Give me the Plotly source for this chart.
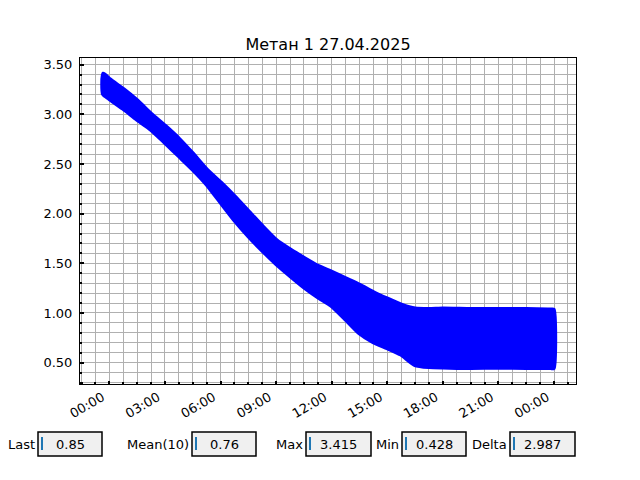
import plotly.graph_objects as go

# ---- data ----
title_text = "Метан 1 27.04.2025"
times = [
    "2025-04-26 23:41", "2025-04-27 00:00", "2025-04-27 00:45", "2025-04-27 01:30",
    "2025-04-27 02:15", "2025-04-27 03:00", "2025-04-27 03:45", "2025-04-27 04:30",
    "2025-04-27 05:15", "2025-04-27 06:00", "2025-04-27 06:45", "2025-04-27 07:30",
    "2025-04-27 08:15", "2025-04-27 09:00", "2025-04-27 09:45", "2025-04-27 10:30",
    "2025-04-27 11:15", "2025-04-27 12:00", "2025-04-27 12:45", "2025-04-27 13:30",
    "2025-04-27 14:15", "2025-04-27 15:00", "2025-04-27 15:45", "2025-04-27 16:30",
    "2025-04-27 17:15", "2025-04-27 18:00", "2025-04-27 19:30", "2025-04-27 21:00",
    "2025-04-27 22:30", "2025-04-27 23:40", "2025-04-27 23:50", "2025-04-27 23:58",
]
band_high = [3.405, 3.35, 3.25, 3.135, 3.00, 2.88, 2.75, 2.60,
             2.44, 2.31, 2.17, 2.02, 1.87, 1.73, 1.635, 1.55,
             1.47, 1.41, 1.345, 1.28, 1.205, 1.14, 1.08, 1.04,
             1.035, 1.04, 1.035, 1.035, 1.035, 1.03, 1.03, 1.03]
band_low = [3.205, 3.16, 3.06, 2.95, 2.85, 2.72, 2.585, 2.45,
            2.30, 2.12, 1.94, 1.78, 1.635, 1.50, 1.38, 1.265,
            1.165, 1.075, 0.94, 0.80, 0.71, 0.65, 0.585, 0.48,
            0.46, 0.455, 0.45, 0.455, 0.45, 0.45, 0.45, 0.45]

stat_labels = ["Last", "Mean(10)", "Max", "Min", "Delta"]
stat_values = ["0.85", "0.76", "3.415", "0.428", "2.987"]
# pixel boxes (left, right) for each stat, in window pixels
box_px = [(38, 102), (192, 256), (306, 371), (402, 466), (510, 575)]

# ---- figure (page body has an 8px margin) ----
OFF = 8
PL, PR, PT, PB = 80, 576, 58, 384   # plot area in window pixels
W, H = 640 - OFF, 480 - OFF

def px_x(p):
    return (p - PL) / (PR - PL)

def px_y(p):
    return (PB - p) / (PB - PT)

poly_x = times + times[::-1] + times[:1]
poly_y = band_high + band_low[::-1] + band_high[:1]

fig = go.Figure()
fig.add_trace(go.Scatter(
    x=poly_x, y=poly_y, mode="lines", fill="toself",
    fillcolor="#0000ff", line=dict(color="#0000ff", width=5, shape="spline", smoothing=0.5),
    hoverinfo="skip", showlegend=False,
))

font = "DejaVu Sans"
grid = "#b0b0b0"

fig.update_layout(
    width=W, height=H,
    margin=dict(l=PL - OFF, r=W - (PR - OFF), t=PT - OFF, b=H - (PB - OFF), pad=0),
    paper_bgcolor="white", plot_bgcolor="white",
    font=dict(family=font, size=13, color="black"),
    title=dict(text=title_text, x=0.5, xref="paper", y=1 - (44 - OFF) / H, yref="container",
               xanchor="center", yanchor="middle", font=dict(size=16, family=font)),
    showlegend=False,
)

fig.update_xaxes(
    type="date",
    range=["2025-04-26 22:25", "2025-04-28 01:11"],
    tick0="2025-04-27 00:00", dtick=3 * 3600 * 1000, tickformat="%H:%M",
    tickangle=-30, ticks="inside", ticklen=3, tickwidth=2, tickcolor="black",
    ticklabelshift=-7,
    showgrid=True, gridcolor=grid, gridwidth=1,
    minor=dict(dtick=45 * 60 * 1000, showgrid=True, gridcolor=grid, gridwidth=1,
               ticks="inside", ticklen=2, tickcolor="black"),
    showline=True, linecolor="black", linewidth=1, mirror=True,
    zeroline=False, tickfont=dict(size=13, family=font),
)
fig.update_yaxes(
    range=[0.285, 3.567],
    tick0=0, dtick=0.5, tickformat=".2f",
    ticks="inside", ticklen=4, tickwidth=2, tickcolor="black",
    showgrid=True, gridcolor=grid, gridwidth=1,
    minor=dict(dtick=0.1, showgrid=True, gridcolor=grid, gridwidth=1,
               ticks="inside", ticklen=2, tickcolor="black"),
    showline=True, linecolor="black", linewidth=1, mirror=True,
    zeroline=False, tickfont=dict(size=13, family=font), ticklabelstandoff=4,
)

# stat boxes
box_top, box_bot = 432, 456
for lab, val, (bl, br) in zip(stat_labels, stat_values, box_px):
    fig.add_shape(type="rect", xref="paper", yref="paper",
                  x0=px_x(bl), x1=px_x(br), y0=px_y(box_bot), y1=px_y(box_top),
                  fillcolor="#f0f0f0", line=dict(color="black", width=1.5))
    fig.add_shape(type="line", xref="paper", yref="paper",
                  x0=px_x(bl + 4), x1=px_x(bl + 4), y0=px_y(450), y1=px_y(437),
                  line=dict(color="#1f77b4", width=2))
    fig.add_annotation(xref="paper", yref="paper", x=px_x(bl - 1), y=px_y(444),
                       text=lab, showarrow=False, xanchor="right", yanchor="middle",
                       font=dict(size=13, family=font, color="black"))
    fig.add_annotation(xref="paper", yref="paper", x=px_x((bl + br) / 2), y=px_y(444),
                       text=val, showarrow=False, xanchor="center", yanchor="middle",
                       font=dict(size=13, family=font, color="black"))

fig.write_html("out.html")
